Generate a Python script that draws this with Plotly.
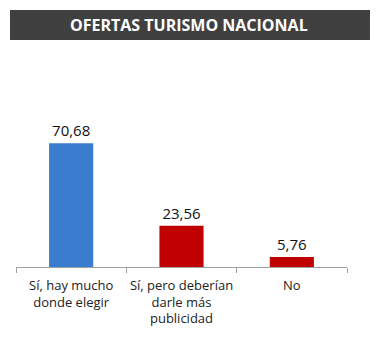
import plotly.graph_objects as go

categories = ["Sí, hay mucho<br>donde elegir", "Sí, pero deberían<br>darle más<br>publicidad", "No"]
values = [70.68, 23.56, 5.76]
bar_colors = ["#3A7DCF", "#C00000", "#C00000"]
title_text = "OFERTAS TURISMO NACIONAL"

W, H = 379, 339
# plot area in pixels
x0, x1 = 16, 347
y_top, y_bot = 127, 267
pw, ph = x1 - x0, y_bot - y_top

def px_x(p):
    return (p - x0) / pw

def px_y(p):
    return (y_bot - p) / ph

fig = go.Figure(
    go.Bar(
        x=categories,
        y=values,
        marker=dict(color=bar_colors, line=dict(width=0)),
        width=0.4,
        text=values,
        texttemplate="%{y:.2f}",
        textposition="outside",
        cliponaxis=False,
        textfont=dict(family="Open Sans", size=15, color="#111111"),
    )
)

fig.add_shape(
    type="rect", xref="paper", yref="paper",
    x0=px_x(10), x1=px_x(370), y0=px_y(40), y1=px_y(10),
    fillcolor="#404040", line=dict(width=0), layer="below",
)
fig.add_annotation(
    text="<b>" + title_text + "</b>", xref="paper", yref="paper",
    x=px_x(189), y=px_y(25), showarrow=False,
    xanchor="center", yanchor="middle",
    font=dict(family="Open Sans", size=16, color="white"),
)

fig.update_layout(
    width=W, height=H,
    margin=dict(l=x0, r=W - x1, t=y_top, b=H - y_bot, autoexpand=False),
    paper_bgcolor="white", plot_bgcolor="white",
    separators=", ",
    showlegend=False,
    bargap=0.6,
)
fig.update_xaxes(
    type="category", range=[-0.5, 2.5],
    showline=True, linecolor="#A0A0A0", linewidth=1,
    ticks="outside", tickson="boundaries", ticklen=5, tickcolor="#A0A0A0",
    showgrid=False, ticklabelstandoff=6, tickangle=0, automargin=False,
    tickfont=dict(family="Open Sans", size=13, color="#222222"),
)
fig.update_yaxes(range=[0, 80], visible=False, showgrid=False, zeroline=False)

fig.write_html("out.html")
